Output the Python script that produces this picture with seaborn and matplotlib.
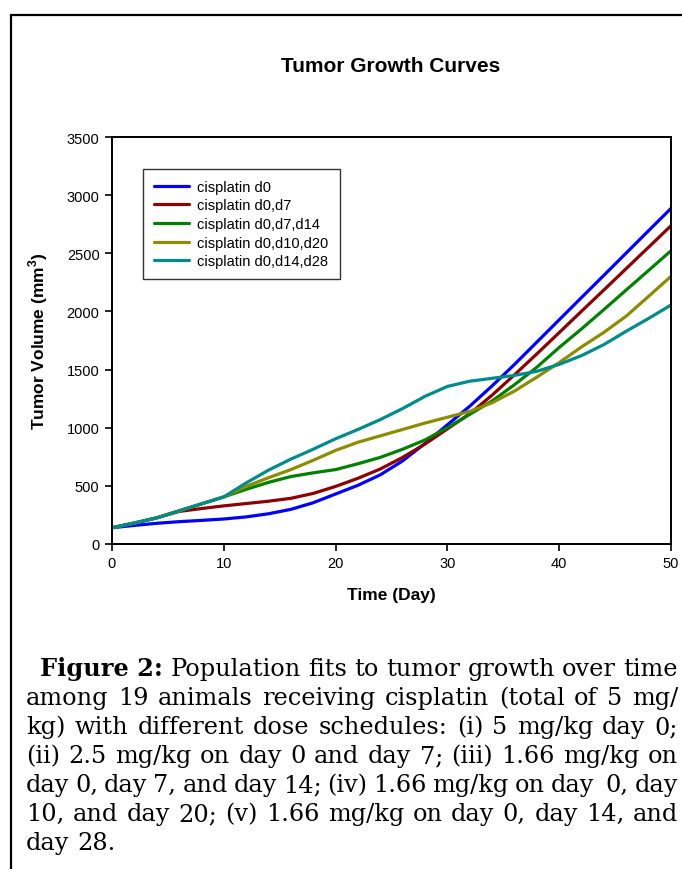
import pandas as pd
import matplotlib.pyplot as plt
import seaborn as sns
from matplotlib.lines import Line2D

# Style
sns.set_style("ticks")
plt.rcParams['font.family'] = ['Liberation Sans', 'DejaVu Sans']
plt.rcParams['mathtext.fontset'] = 'custom'
plt.rcParams['mathtext.rm'] = 'Liberation Sans'
plt.rcParams['mathtext.bf'] = 'Liberation Sans:bold'
for k in ['text.color', 'axes.labelcolor', 'xtick.color', 'ytick.color']:
    plt.rcParams[k] = 'black'

# Data (days 0..50 every 2 days)
days = list(range(0, 51, 2))
schedules = ['cisplatin d0', 'cisplatin d0,d7', 'cisplatin d0,d7,d14',
             'cisplatin d0,d10,d20', 'cisplatin d0,d14,d28']
vol_d0 = [140, 160, 178, 192, 203, 215, 233, 260, 298, 355, 430, 505, 595, 715, 865,
          1025, 1185, 1360, 1544, 1736, 1928, 2120, 2311, 2503, 2695, 2886]
vol_d0_d7 = [140, 180, 225, 280, 305, 328, 348, 368, 393, 435, 495, 565, 645, 745, 860,
             990, 1120, 1280, 1455, 1635, 1818, 2002, 2185, 2369, 2553, 2737]
vol_d0_d7_d14 = [140, 180, 225, 285, 345, 405, 470, 530, 580, 612, 640, 690, 745, 815, 895,
                 1000, 1115, 1230, 1370, 1520, 1690, 1850, 2016, 2185, 2353, 2522]
vol_d0_d10_d20 = [140, 180, 225, 285, 345, 405, 495, 570, 640, 720, 805, 875, 930, 985, 1040,
                  1090, 1140, 1215, 1315, 1435, 1560, 1695, 1820, 1960, 2130, 2302]
vol_d0_d14_d28 = [140, 180, 225, 285, 345, 405, 525, 635, 730, 815, 905, 985, 1070, 1165, 1270,
                  1355, 1400, 1425, 1450, 1485, 1545, 1620, 1715, 1830, 1940, 2055]
series = [vol_d0, vol_d0_d7, vol_d0_d7_d14, vol_d0_d10_d20, vol_d0_d14_d28]
colors = ['#0000FF', '#8B0000', '#008000', '#8C8C00', '#008B8B']

caption_bold = "Figure 2:"
caption_lines = [
    "Population fits to tumor growth over time",
    "among 19 animals receiving cisplatin (total of 5 mg/",
    "kg) with different dose schedules: (i) 5 mg/kg day 0;",
    "(ii) 2.5 mg/kg on day 0 and day 7; (iii) 1.66 mg/kg on",
    "day 0, day 7, and day 14; (iv) 1.66 mg/kg on day  0, day",
    "10, and day 20; (v) 1.66 mg/kg on day 0, day 14, and",
    "day 28.",
]

df = pd.DataFrame([
    {'Day': d, 'Volume': v, 'Schedule': s}
    for s, vals in zip(schedules, series)
    for d, v in zip(days, vals)
])

W, H = 682, 870
fig = plt.figure(figsize=(W / 100, H / 100), dpi=100)
ax = fig.add_axes([112 / W, 1 - 545 / H, 559 / W, 407 / H])

sns.lineplot(data=df, x='Day', y='Volume', hue='Schedule', hue_order=schedules,
             palette=dict(zip(schedules, colors)), linewidth=2.3, ax=ax)

ax.set_xlim(0, 50)
ax.set_ylim(0, 3500)
ax.set_xticks(range(0, 51, 10))
ax.set_yticks(range(0, 3501, 500))
ax.tick_params(axis='both', labelsize=10.5, length=5, width=1.2, direction='out', pad=4)
for sp in ax.spines.values():
    sp.set_linewidth(1.4)
    sp.set_color('black')
    sp.set_visible(True)

ax.set_xlabel('Time (Day)', fontsize=12.5, fontweight='bold', labelpad=12)
ax.set_ylabel(r'Tumor Volume (mm$^{\mathbf{3}}$)', fontsize=12.5, fontweight='bold', labelpad=12)
fig.text(391 / W, 1 - 66 / H, 'Tumor Growth Curves', fontsize=15, fontweight='bold',
         ha='center', va='center')

leg = ax.legend(loc='upper left', bbox_to_anchor=(0.055, 0.922), borderaxespad=0,
                fontsize=10.5, frameon=True, fancybox=False, edgecolor='black',
                handlelength=2.4, handletextpad=0.6, labelspacing=0.32,
                borderpad=0.75)
leg.get_frame().set_linewidth(1.0)
for h in leg.get_lines():
    h.set_linewidth(2.3)

# Outer frame (left and top)
fig.add_artist(Line2D([11 / W, 11 / W], [0, 1 - 16 / H], color='black', lw=1.6))
fig.add_artist(Line2D([11 / W, 1], [1 - 16 / H, 1 - 16 / H], color='black', lw=1.6))

# Caption, justified line by line
fig.canvas.draw()
renderer = fig.canvas.get_renderer()
cap_font = dict(family='DejaVu Serif', fontsize=17.3)
right_px = 678
baselines = [676, 705, 734, 763, 792, 821, 850]


def width_px(s, **kw):
    t = fig.text(0, 0, s, **kw)
    w = t.get_window_extent(renderer).width
    t.remove()
    return w


for i, (line, base) in enumerate(zip(caption_lines, baselines)):
    y = 1 - base / H
    x0 = 26
    words = line.split(' ')
    if i == 0:
        x0 = 40
        fig.text(x0 / W, y, caption_bold, fontweight='bold', va='baseline', **cap_font)
        x0 += width_px(caption_bold, fontweight='bold', **cap_font)
        words = [''] + words
    ws = [width_px(w, **cap_font) if w else 0 for w in words]
    if i < len(caption_lines) - 1 and len(words) > 1:
        gap = (right_px - x0 - sum(ws)) / (len(words) - 1)
    else:
        gap = width_px('a a', **cap_font) - 2 * width_px('a', **cap_font)
    x = x0
    for w, wd in zip(words, ws):
        if w:
            fig.text(x / W, y, w, va='baseline', **cap_font)
        x += wd + gap

fig.savefig('out.png', dpi=100)
